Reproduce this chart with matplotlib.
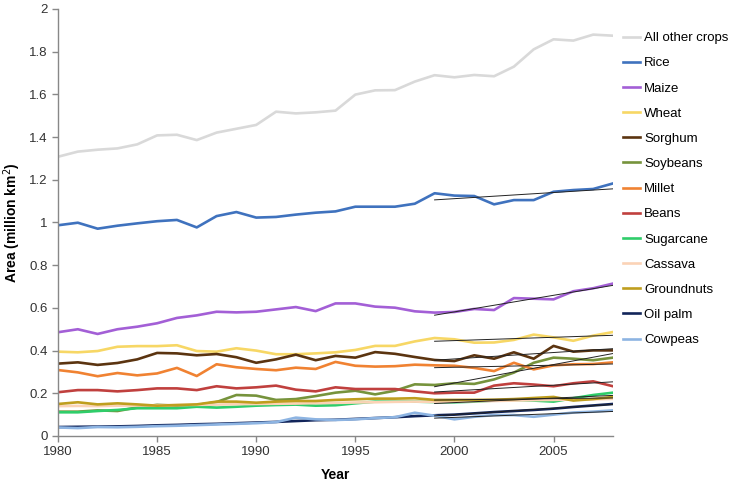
import numpy as np
import matplotlib
matplotlib.use("Agg")
import matplotlib.pyplot as plt

plt.rcParams['font.family'] = ['Liberation Sans', 'DejaVu Sans']

years = list(range(1980, 2009))

all_other = [1.308, 1.332, 1.341, 1.347, 1.366, 1.408, 1.411, 1.386, 1.421, 1.439,
             1.457, 1.519, 1.511, 1.516, 1.524, 1.599, 1.619, 1.620, 1.660, 1.690,
             1.680, 1.691, 1.685, 1.730, 1.811, 1.858, 1.852, 1.880, 1.875]
rice = [0.987, 0.999, 0.971, 0.985, 0.996, 1.006, 1.012, 0.977, 1.030, 1.049,
        1.023, 1.026, 1.037, 1.046, 1.052, 1.074, 1.074, 1.074, 1.088, 1.137,
        1.126, 1.124, 1.085, 1.105, 1.105, 1.144, 1.152, 1.157, 1.183]
maize = [0.486, 0.500, 0.478, 0.500, 0.512, 0.528, 0.553, 0.565, 0.582, 0.579,
         0.582, 0.593, 0.604, 0.585, 0.621, 0.621, 0.606, 0.601, 0.584, 0.578,
         0.581, 0.595, 0.590, 0.646, 0.643, 0.640, 0.678, 0.692, 0.714]
wheat = [0.395, 0.392, 0.398, 0.418, 0.421, 0.421, 0.425, 0.398, 0.395, 0.411,
         0.400, 0.383, 0.383, 0.387, 0.392, 0.403, 0.422, 0.422, 0.443, 0.459,
         0.453, 0.437, 0.438, 0.450, 0.475, 0.462, 0.446, 0.470, 0.487]
sorghum = [0.339, 0.345, 0.333, 0.342, 0.359, 0.389, 0.387, 0.378, 0.384, 0.369,
           0.343, 0.359, 0.381, 0.355, 0.375, 0.367, 0.393, 0.385, 0.370, 0.356,
           0.351, 0.378, 0.362, 0.392, 0.362, 0.422, 0.395, 0.401, 0.401]
soybeans = [0.114, 0.114, 0.120, 0.117, 0.134, 0.146, 0.142, 0.145, 0.159, 0.192,
            0.189, 0.169, 0.173, 0.187, 0.203, 0.212, 0.195, 0.212, 0.242, 0.239,
            0.247, 0.244, 0.265, 0.297, 0.343, 0.367, 0.362, 0.355, 0.367]
millet = [0.309, 0.298, 0.280, 0.295, 0.284, 0.293, 0.319, 0.281, 0.336, 0.322,
          0.314, 0.308, 0.320, 0.314, 0.347, 0.329, 0.325, 0.327, 0.334, 0.331,
          0.329, 0.319, 0.304, 0.343, 0.312, 0.331, 0.336, 0.337, 0.345]
beans = [0.205, 0.215, 0.215, 0.209, 0.215, 0.223, 0.223, 0.215, 0.233, 0.223,
         0.228, 0.236, 0.217, 0.209, 0.228, 0.220, 0.220, 0.220, 0.209, 0.200,
         0.203, 0.203, 0.236, 0.247, 0.241, 0.233, 0.247, 0.256, 0.233]
sugarcane = [0.111, 0.111, 0.117, 0.122, 0.130, 0.130, 0.130, 0.137, 0.133, 0.137,
             0.142, 0.145, 0.147, 0.142, 0.144, 0.153, 0.161, 0.161, 0.161, 0.159,
             0.158, 0.161, 0.166, 0.169, 0.166, 0.161, 0.177, 0.192, 0.203]
cassava = [0.140, 0.141, 0.140, 0.142, 0.143, 0.144, 0.145, 0.146, 0.147, 0.149,
           0.150, 0.151, 0.152, 0.154, 0.155, 0.157, 0.158, 0.160, 0.161, 0.160,
           0.161, 0.163, 0.164, 0.166, 0.168, 0.169, 0.171, 0.172, 0.174]
groundnuts = [0.150, 0.158, 0.148, 0.153, 0.148, 0.142, 0.145, 0.148, 0.161, 0.161,
              0.156, 0.161, 0.164, 0.164, 0.169, 0.172, 0.175, 0.175, 0.177, 0.169,
              0.169, 0.169, 0.170, 0.173, 0.178, 0.183, 0.166, 0.173, 0.183]
oil_palm = [0.042, 0.043, 0.044, 0.045, 0.047, 0.050, 0.052, 0.055, 0.057, 0.060,
            0.063, 0.066, 0.070, 0.074, 0.076, 0.080, 0.084, 0.088, 0.093, 0.097,
            0.100, 0.106, 0.112, 0.117, 0.122, 0.128, 0.136, 0.143, 0.150]
cowpeas = [0.040, 0.037, 0.042, 0.041, 0.043, 0.046, 0.048, 0.051, 0.054, 0.057,
           0.060, 0.065, 0.086, 0.078, 0.075, 0.078, 0.084, 0.088, 0.109, 0.095,
           0.078, 0.090, 0.098, 0.098, 0.090, 0.100, 0.110, 0.114, 0.120]

labels = ['All other crops', 'Rice', 'Maize', 'Wheat', 'Sorghum', 'Soybeans', 'Millet',
          'Beans', 'Sugarcane', 'Cassava', 'Groundnuts', 'Oil palm', 'Cowpeas']
series = [all_other, rice, maize, wheat, sorghum, soybeans, millet,
          beans, sugarcane, cassava, groundnuts, oil_palm, cowpeas]
colors = ['#d9d9d9', '#3f72be', '#a35fd6', '#f7d765', '#5b3410', '#76933c', '#f08232',
          '#c0403e', '#2fcd6a', '#fbd3b6', '#bf9e1e', '#12255a', '#8db4e2']
trend_series = ['Rice', 'Maize', 'Wheat', 'Sorghum', 'Soybeans', 'Millet', 'Beans',
                'Sugarcane', 'Groundnuts', 'Oil palm', 'Cowpeas']
trend_start = 1999

fig = plt.figure(figsize=(7.3, 4.83), dpi=100)
ax = fig.add_axes([58/730, 47/483, (613-58)/730, (436-9)/483])

yrs = np.array(years)
for lab, vals, col in zip(labels, series, colors):
    ax.plot(yrs, vals, color=col, lw=1.9, label=lab, solid_joinstyle='round')

for lab, vals in zip(labels, series):
    if lab in trend_series:
        m = yrs >= trend_start
        p = np.polyfit(yrs[m], np.array(vals)[m], 1)
        ax.plot(yrs[m], np.polyval(p, yrs[m]), color='#222222', lw=0.7)

ax.set_xlim(1980, 2008)
ax.set_ylim(0, 2)
ax.set_xticks([1980, 1985, 1990, 1995, 2000, 2005])
ax.set_yticks(np.arange(0, 2.01, 0.2))
ax.set_yticklabels(['0', '0.2', '0.4', '0.6', '0.8', '1', '1.2', '1.4', '1.6', '1.8', '2'])
for s in ['top', 'right']:
    ax.spines[s].set_visible(False)
for s in ['left', 'bottom']:
    ax.spines[s].set_color('#888888')
    ax.spines[s].set_linewidth(1.0)
ax.tick_params(axis='both', colors='#888888', labelcolor='#333333', labelsize=9.5,
               direction='out', length=4, width=1)
ax.set_xlabel('Year', fontsize=10, fontweight='bold', labelpad=7)
ax.set_ylabel('Area (million km$^2$)', fontsize=10, fontweight='bold')
ax.yaxis.set_label_coords(-35/555, 0.5)

handles, labs = ax.get_legend_handles_labels()
fig.legend(handles, labs, loc='upper left', bbox_to_anchor=(623/730, 1 - 32/483),
           frameon=False, fontsize=9.5, handlelength=1.3, handletextpad=0.3,
           labelspacing=0.98, borderaxespad=0, borderpad=0)

fig.savefig('out.png', dpi=100)
